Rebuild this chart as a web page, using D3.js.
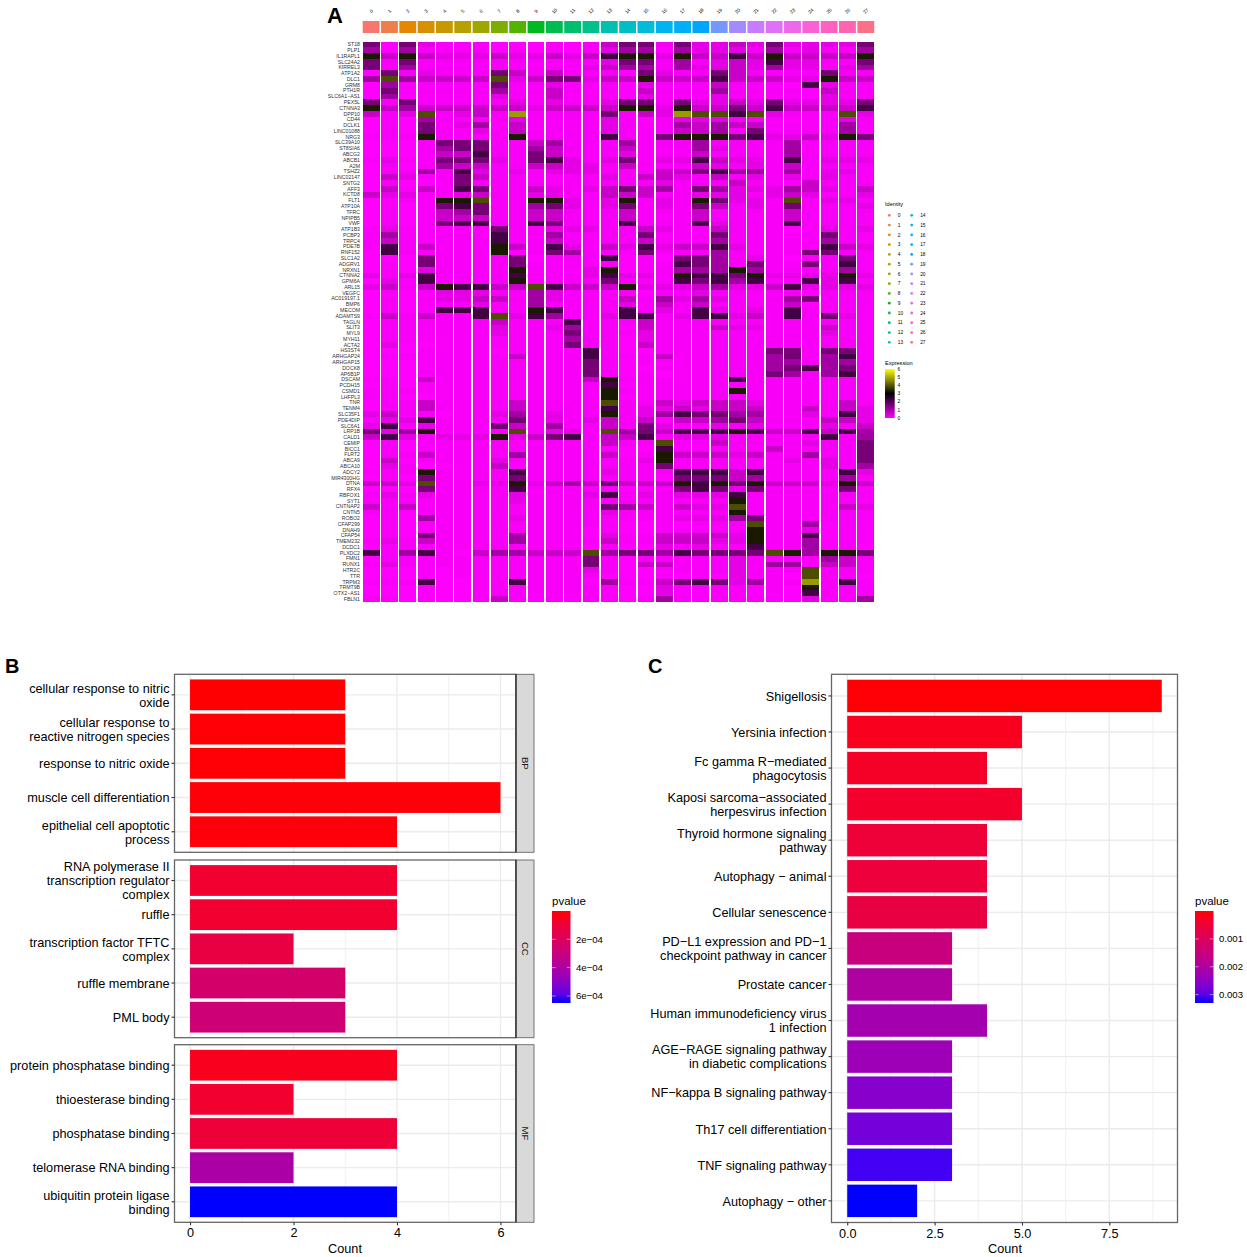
<!DOCTYPE html>
<html>
<head>
<meta charset="utf-8">
<script src="https://cdn.jsdelivr.net/npm/d3@7"></script>
<style>
  html, body { margin: 0; padding: 0; background: #fff; }
  text { font-family: "Liberation Sans", Arial, sans-serif; fill: #000; }
</style>
</head>
<body>
<div id="chart"></div>
<script>
const clusters = d3.range(28).map(String);

const clusterColors = ["#F8766D", "#EF7F49", "#E58700", "#D89000", "#C99800", "#B8A000", "#A0A600", "#7CAE00",
  "#53B400", "#00B81F", "#00BB4E", "#00BE70", "#00C08B", "#00C0AF", "#00BFC4", "#00BCD8", "#00B4EF", "#00B0F6",
  "#00A5FF", "#7598FF", "#A58AFF", "#C77CFF", "#DF70F8", "#EF67EB", "#FB61D7", "#FF61C3", "#FF64B0", "#FD6F86"];

const genes = ["ST18", "PLP1", "IL1RAPL1", "SLC24A2", "KIRREL3", "ATP1A2", "DLC1", "GRM8", "PTH1R", "SLC6A1−AS1",
  "PEX5L", "CTNNA3", "DPP10", "CD44", "DCLK1", "LINC01088", "NRG3", "SLC39A10", "ST8SIA6", "ABCG2", "ABCB1", "A2M",
  "TSHZ2", "LINC02147", "SNTG2", "AFF3", "KCTD8", "FLT1", "ATP10A", "TFRC", "NPIPB5", "VWF", "ATP1B3", "PCBP3",
  "TRPC4", "PDE7B", "RNF152", "SLC1A2", "ADGRV1", "NRXN1", "CTNNA2", "GPM6A", "ARL15", "VEGFC", "AC019197.1", "BMP6",
  "MECOM", "ADAMTS9", "TAGLN", "SLIT3", "MYL9", "MYH11", "ACTA2", "HS3ST4", "ARHGAP24", "ARHGAP15", "DOCK8", "AP6B1P",
  "DSCAM", "PCDH15", "CSMD1", "LHFPL3", "TNR", "TENM4", "SLC35F1", "PDE4DIP", "SLC6A1", "LRP1B", "CALD1", "CEMIP",
  "BICC1", "FLRT2", "ABCA9", "ABCA10", "ADCY2", "MIR4300HG", "DTNA", "RFX4", "RBFOX1", "SYT1", "CNTNAP2", "CNTN5",
  "ROBO2", "CFAP299", "DNAH9", "CFAP54", "TMEM232", "DCDC1", "PLXDC2", "FMN1", "RUNX1", "HTR2C", "TTR", "TRPM3",
  "TRMT9B", "OTX2−AS1", "FBLN1"];

// one string per gene, one digit per cluster (index into exprLevels)
const heatRows = [
  "50521110001013 55152232522225", "40411110101012 44042221412114", "73732223223236 77273363733337",
  "51511111111112 55141232622115", "51411111111123 44142232422124", "05121115313111 05211531111511",
  "48433338235523 37333633322733", "04111115112111 02111311106211", "05111114113111 03111411110311",
  "04011112113111 02111211110211", "51511111212112 55152232522225", "73433333323333 77273353633336",
  "31281231911115 13298868211182", "01041111211112 10122211101121", "01051240311112 11143433111141",
  "01051121311112 11133415111141", "11171111711116 11577756223275", "00015551134111 41114111141111",
  "00014551143111 31114211141111", "00013361153111 21113111141111", "12115552156212 51226322161222",
  "01014331133221 31113212131111", "01141621212221 11335644141221", "03211531111112 13321312121211",
  "01001511111111 11211131113111", "03131651132123 53415422243213", "32211231122113 33112221232112",
  "01117781177212 71217522181221", "01015651145212 51215312151112", "01013451133111 31113111131111",
  "01013331133111 31113111131111", "01015661165111 61116211161111", "12111115112221 13211311101212",
  "14111116114111 15111511111511", "13111116113111 13111411111411", "16131117316213 26233621111632",
  "06111117015411 15111411115511", "00051111501116 01055412101151", "01051111511111 01165415115161",
  "01021111711127 01144474111141", "21261111611126 22176657222272", "02161111711115 11165646116261",
  "23137663386333 72223422362222", "01012221142111 10112111110111", "01012233142111 31424211145111",
  "01011121141111 21313111130111", "01016661176111 61216212161111", "13131168264112 66126623161521",
  "01111113111611 13111111111111", "01111112112411 03111322111311", "01111112111511 12111111111211",
  "01111111111411 02111111111111", "02001111111511 03111111111111", "00011110111161 00111111551551",
  "01111111311161 11311111451461", "00011111111151 01111111441441", "00011111111151 00111111456451",
  "00011111111151 01011111541461", "11031111111137 11111161111111", "01011111111116 01111111111111",
  "11111111111117 11111171111111", "11001111111117 01111111111111", "01131111311118 11323332111131",
  "01131111311116 12232333113132", "23110112412117 12465544112162", "12261111512123 13133453111332",
  "26121115314113 15211212111213", "52471111812218 45366676336364", "36212227235613 36122211111614",
  "01011111111113 11811311112115", "01011111111111 00611111311115", "01131111411113 01733323114115",
  "03011112111111 12711111121215", "02100113011111 11511111111214", "11171111611112 11166636111162",
  "01051111511111 11055534111141", "33281122723435 33376757333273", "00051111611111 01156525111151",
  "12121111211126 12122261111111", "11111111211111 11111171111111", "31311111111115 43132281111132",
  "11011111111112 11111171111111", "01041111211111 11122245111111", "01011111111111 00101118114011",
  "01011111111101 00111117112011", "01051111411102 11333327116011", "12131111411113 11333227114011",
  "01111111111101 00212116114010", "61461034433384 55465555874775", "01111111111151 01111121111431",
  "12111111111151 03311121441331", "00010111111121 00111121118111", "00010111111110 00101021108110",
  "11160011611104 11356524119161", "00010011111111 00211111107111", "00010011111111 00211111106111",
  "11010013111111 01411111102114"
];

const exprLevels = [0, 0.08, 0.3, 0.65, 1.1, 1.6, 2.2, 3.3, 3.9, 4.8];
const exprTicks = [0, 1, 2, 3, 4, 5, 6];

const bpTerms = ["cellular response to nitric\noxide", "cellular response to\nreactive nitrogen species",
  "response to nitric oxide", "muscle cell differentiation", "epithelial cell apoptotic\nprocess"];
const bpCounts = [3, 3, 3, 6, 4];
const bpPvalues = [0.000002, 0.000004, 0.000004, 0.000008, 0.00001];

const ccTerms = ["RNA polymerase II\ntranscription regulator\ncomplex", "ruffle", "transcription factor TFTC\ncomplex",
  "ruffle membrane", "PML body"];
const ccCounts = [4, 4, 2, 3, 3];
const ccPvalues = [0.00008, 0.00008, 0.00013, 0.00024, 0.00027];

const mfTerms = ["protein phosphatase binding", "thioesterase binding", "phosphatase binding", "telomerase RNA binding",
  "ubiquitin protein ligase\nbinding"];
const mfCounts = [4, 2, 4, 2, 4];
const mfPvalues = [0.00004, 0.00008, 0.0001, 0.00041, 0.00065];

const keggTerms = ["Shigellosis", "Yersinia infection", "Fc gamma R−mediated\nphagocytosis",
  "Kaposi sarcoma−associated\nherpesvirus infection", "Thyroid hormone signaling\npathway", "Autophagy − animal",
  "Cellular senescence", "PD−L1 expression and PD−1\ncheckpoint pathway in cancer", "Prostate cancer",
  "Human immunodeficiency virus\n1 infection", "AGE−RAGE signaling pathway\nin diabetic complications",
  "NF−kappa B signaling pathway", "Th17 cell differentiation", "TNF signaling pathway", "Autophagy − other"];
const keggCounts = [9, 5, 4, 5, 4, 4, 4, 3, 3, 4, 3, 3, 3, 3, 2];
const keggPvalues = [0.00002, 0.0002, 0.0003, 0.00035, 0.0005, 0.00055, 0.00065, 0.0015, 0.002, 0.0022, 0.0023,
  0.0026, 0.0028, 0.00315, 0.0033];

const goPvalueTicks = [0.0002, 0.0004, 0.0006];
const goPvalueLabels = ["2e−04", "4e−04", "6e−04"];
const keggPvalueTicks = [0.001, 0.002, 0.003];
const keggPvalueLabels = ["0.001", "0.002", "0.003"];

const svg = d3.select("#chart").append("svg").attr("width", 1247).attr("height", 1257);

const exprColor = d3.scaleLinear().domain([0, 3, 6]).range(["#FF00FF", "#000000", "#FFFF00"]);

drawHeatmap();
drawFacet(goFacets(), d3.scaleLinear().domain([-0.3, 6.3]).range([174.5, 516]), [0, 2, 4, 6], [1, 3, 5], 345);
drawFacet(keggFacets(), d3.scaleLinear().domain([-0.45, 9.45]).range([831.5, 1177.5]),
  [0, 2.5, 5, 7.5], [1.25, 3.75, 6.25, 8.75], 1005);
drawPvalueLegend(552, [0, 0.00065], goPvalueTicks, goPvalueLabels, "goGrad");
drawPvalueLegend(1195, [0, 0.0033], keggPvalueTicks, keggPvalueLabels, "keggGrad");

svg.append("text").attr("x", 327).attr("y", 23).attr("font-size", 22).attr("font-weight", "bold").text("A");
svg.append("text").attr("x", 5).attr("y", 673).attr("font-size", 20).attr("font-weight", "bold").text("B");
svg.append("text").attr("x", 648).attr("y", 673).attr("font-size", 20).attr("font-weight", "bold").text("C");

function goFacets() {
  const color = d3.scaleLinear().domain([0, 0.00065]).range(["#FF0000", "#0000FF"]).interpolate(d3.interpolateLab);
  return [
    { strip: "BP", top: 674.3, bottom: 852.3, terms: bpTerms, counts: bpCounts, pvalues: bpPvalues, color: color },
    { strip: "CC", top: 860, bottom: 1037.7, terms: ccTerms, counts: ccCounts, pvalues: ccPvalues, color: color },
    { strip: "MF", top: 1044.7, bottom: 1222.3, terms: mfTerms, counts: mfCounts, pvalues: mfPvalues, color: color }
  ];
}

function keggFacets() {
  const color = d3.scaleLinear().domain([0, 0.0033]).range(["#FF0000", "#0000FF"]).interpolate(d3.interpolateLab);
  return [{ top: 674.3, bottom: 1222.5, terms: keggTerms, counts: keggCounts, pvalues: keggPvalues, color: color }];
}

function drawHeatmap() {
  const x = d3.scaleBand().domain(clusters).range([362.7, 874.2]).paddingInner(0.08);
  const y = d3.scaleBand().domain(genes).range([41.5, 602]);
  const g = svg.append("g");

  // cluster bar and its labels
  g.selectAll(".clusterBar").data(clusters).enter().append("rect")
    .attr("class", "clusterBar")
    .attr("x", d => x(d)).attr("y", 21).attr("width", x.bandwidth()).attr("height", 12)
    .attr("fill", (d, i) => clusterColors[i]);

  g.selectAll(".clusterLabel").data(clusters).enter().append("text")
    .attr("class", "clusterLabel")
    .attr("transform", d => "translate(" + (x(d) + x.bandwidth() / 2) + ",11) rotate(-45)")
    .attr("text-anchor", "middle").attr("dy", "0.35em")
    .attr("font-size", 4.8).attr("fill", "#333")
    .text(d => d);

  const cells = [];
  heatRows.forEach((row, r) => {
    const digits = row.replace(" ", "");
    clusters.forEach((c, i) => cells.push({ gene: genes[r], cluster: c, value: exprLevels[+digits[i]] }));
  });

  g.append("g").attr("shape-rendering", "crispEdges").selectAll("rect").data(cells).enter().append("rect")
    .attr("x", d => x(d.cluster))
    .attr("y", d => y(d.gene))
    .attr("width", x.bandwidth())
    .attr("height", y.bandwidth())
    .attr("fill", d => exprColor(d.value));

  g.selectAll(".geneLabel").data(genes).enter().append("text")
    .attr("class", "geneLabel")
    .attr("x", 360).attr("y", d => y(d) + y.bandwidth() / 2)
    .attr("dy", "0.35em").attr("text-anchor", "end")
    .attr("font-size", 5.2).style("fill", "#333")
    .text(d => d);

  // identity legend
  const half = 14;
  const legY = d3.scaleLinear().domain([0, 13]).range([215.3, 342.3]);
  g.append("text").attr("x", 885).attr("y", 206).attr("font-size", 5.6).text("Identity");
  const items = g.selectAll(".idItem").data(clusters).enter().append("g")
    .attr("class", "idItem")
    .attr("transform", (d, i) => "translate(" + (i < half ? 889.3 : 911.7) + "," + legY(i % half) + ")");
  items.append("circle").attr("r", 1.4).attr("fill", (d, i) => clusterColors[i]);
  items.append("text").attr("x", 8.5).attr("dy", "0.35em").attr("font-size", 4.8).text(d => d);

  // expression legend
  const legScale = d3.scaleLinear().domain([0, 6]).range([418, 369]);
  const grad = svg.append("defs").append("linearGradient").attr("id", "exprGrad")
    .attr("x1", 0).attr("x2", 0).attr("y1", 1).attr("y2", 0);
  exprTicks.forEach(t => grad.append("stop").attr("offset", t / 6).attr("stop-color", exprColor(t)));
  g.append("text").attr("x", 885).attr("y", 365).attr("font-size", 5.6).text("Expression");
  g.append("rect").attr("x", 885).attr("y", legScale(6)).attr("width", 9.7).attr("height", legScale(0) - legScale(6))
    .attr("fill", "url(#exprGrad)");
  g.selectAll(".exprTick").data(exprTicks).enter().append("text")
    .attr("class", "exprTick")
    .attr("x", 897.5).attr("y", d => legScale(d)).attr("dy", "0.35em").attr("font-size", 4.8).text(d => d);
}

function drawFacet(facets, x, majors, minors, countX) {
  facets.forEach(f => {
    const y = d3.scaleBand().domain(f.terms).range([f.top, f.bottom]).paddingInner(0.1).paddingOuter(0.15);
    const left = x.range()[0], right = x.range()[1];
    const g = svg.append("g");

    g.selectAll(".minor").data(minors).enter().append("line")
      .attr("x1", d => x(d)).attr("x2", d => x(d)).attr("y1", f.top).attr("y2", f.bottom)
      .attr("stroke", "#EBEBEB").attr("stroke-width", 0.7);
    g.selectAll(".major").data(majors).enter().append("line")
      .attr("x1", d => x(d)).attr("x2", d => x(d)).attr("y1", f.top).attr("y2", f.bottom)
      .attr("stroke", "#EBEBEB").attr("stroke-width", 1.4);
    g.selectAll(".hgrid").data(f.terms).enter().append("line")
      .attr("x1", left).attr("x2", right)
      .attr("y1", d => y(d) + y.bandwidth() / 2).attr("y2", d => y(d) + y.bandwidth() / 2)
      .attr("stroke", "#EBEBEB").attr("stroke-width", 1.4);

    g.selectAll(".bar").data(f.terms).enter().append("rect")
      .attr("x", x(0))
      .attr("y", d => y(d))
      .attr("width", (d, i) => x(f.counts[i]) - x(0))
      .attr("height", y.bandwidth())
      .attr("fill", (d, i) => f.color(f.pvalues[i]));

    g.append("rect").attr("x", left).attr("y", f.top).attr("width", right - left).attr("height", f.bottom - f.top)
      .attr("fill", "none").attr("stroke", "#666").attr("stroke-width", 1.3);

    const yAxis = g.append("g").attr("transform", "translate(" + left + ",0)")
      .call(d3.axisLeft(y).tickSize(3).tickFormat(""));
    yAxis.select(".domain").remove();
    yAxis.selectAll("line").attr("stroke", "#333").attr("stroke-width", 1.1);

    const labels = g.selectAll(".term").data(f.terms).enter().append("text")
      .attr("class", "term")
      .attr("text-anchor", "end")
      .attr("font-size", 12.7);
    labels.each(function (d) {
      const lines = d.split("\n");
      const mid = y(d) + y.bandwidth() / 2;
      d3.select(this).selectAll("tspan").data(lines).enter().append("tspan")
        .attr("x", left - 5)
        .attr("y", (l, i) => mid + (i - (lines.length - 1) / 2) * 14 + 4.8)
        .text(l => l);
    });

    if (f.strip) {
      g.append("rect").attr("x", right).attr("y", f.top).attr("width", 18).attr("height", f.bottom - f.top)
        .attr("fill", "#D9D9D9").attr("stroke", "#666").attr("stroke-width", 0.9);
      g.append("line").attr("x1", right).attr("x2", right).attr("y1", f.top).attr("y2", f.bottom)
        .attr("stroke", "#222").attr("stroke-width", 1.2);
      g.append("text").attr("text-anchor", "middle").attr("dy", "0.35em").attr("font-size", 9.6)
        .attr("transform", "translate(" + (right + 9) + "," + (f.top + f.bottom) / 2 + ") rotate(90)")
        .style("fill", "#1a1a1a")
        .text(f.strip);
    }
  });

  const bottom = facets[facets.length - 1].bottom;
  const xAxis = svg.append("g").attr("transform", "translate(0," + bottom + ")")
    .call(d3.axisBottom(x).tickValues(majors).tickSize(3).tickFormat(d => Number.isInteger(majors[1]) ? d : d3.format(".1f")(d)));
  xAxis.select(".domain").remove();
  xAxis.selectAll("line").attr("stroke", "#333").attr("stroke-width", 1.1);
  xAxis.selectAll("text").attr("font-size", 12.7).attr("font-family", "Liberation Sans").attr("y", 6);

  svg.append("text").attr("x", countX).attr("y", 1252.5).attr("text-anchor", "middle").attr("font-size", 12.7).text("Count");
}

function drawPvalueLegend(xPos, domain, ticks, labels, id) {
  const top = 911, bottom = 1003, width = 18.5;
  const y = d3.scaleLinear().domain(domain).range([top, bottom]);
  const color = d3.scaleLinear().domain(domain).range(["#FF0000", "#0000FF"]).interpolate(d3.interpolateLab);

  const grad = svg.select("defs").append("linearGradient").attr("id", id)
    .attr("x1", 0).attr("x2", 0).attr("y1", 0).attr("y2", 1);
  d3.range(0, 1.01, 0.1).forEach(t => grad.append("stop").attr("offset", t)
    .attr("stop-color", color(domain[0] + t * (domain[1] - domain[0]))));

  const g = svg.append("g");
  g.append("text").attr("x", xPos).attr("y", 905).attr("font-size", 11.5).text("pvalue");
  g.append("rect").attr("x", xPos).attr("y", top).attr("width", width).attr("height", bottom - top)
    .attr("fill", "url(#" + id + ")");
  ticks.forEach((t, i) => {
    g.append("line").attr("x1", xPos).attr("x2", xPos + width / 5).attr("y1", y(t)).attr("y2", y(t))
      .attr("stroke", "#fff").attr("stroke-opacity", 0.8).attr("stroke-width", 0.6);
    g.append("line").attr("x1", xPos + width * 4 / 5).attr("x2", xPos + width).attr("y1", y(t)).attr("y2", y(t))
      .attr("stroke", "#fff").attr("stroke-opacity", 0.8).attr("stroke-width", 0.6);
    g.append("text").attr("x", xPos + width + 5.5).attr("y", y(t)).attr("dy", "0.35em").attr("font-size", 9.6).text(labels[i]);
  });
}
</script>
</body>
</html>
